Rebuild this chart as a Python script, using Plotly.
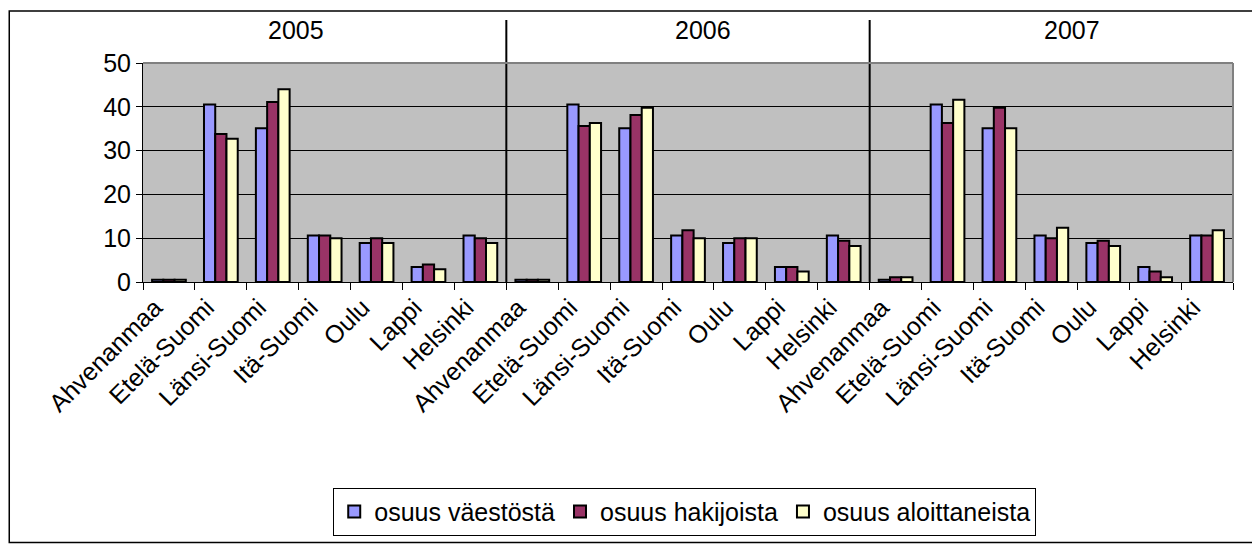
import plotly.graph_objects as go

years = ["2005", "2006", "2007"]
regions = ["Ahvenanmaa", "Etelä-Suomi", "Länsi-Suomi", "Itä-Suomi", "Oulu", "Lappi", "Helsinki"]
series_names = ["osuus väestöstä", "osuus hakijoista", "osuus aloittaneista"]

# values per year, in region order
vaestosta = [0.5, 40.5, 35.1, 10.6, 8.9, 3.4, 10.6,
             0.5, 40.5, 35.1, 10.6, 8.9, 3.4, 10.6,
             0.5, 40.5, 35.1, 10.6, 8.9, 3.4, 10.6]
hakijoista = [0.5, 33.8, 41.1, 10.6, 10.0, 4.0, 10.0,
              0.5, 35.6, 38.1, 11.8, 10.0, 3.4, 9.4,
              1.1, 36.3, 39.8, 10.0, 9.4, 2.4, 10.6]
aloittaneista = [0.5, 32.7, 44.0, 10.0, 8.9, 2.9, 8.9,
                 0.5, 36.3, 39.8, 10.0, 10.0, 2.4, 8.2,
                 1.1, 41.6, 35.1, 12.4, 8.2, 1.1, 11.8]

colors = ["#9999FF", "#993366", "#FFFFCC"]

n = len(years) * len(regions)
xpos = list(range(n))
ticktext = regions * len(years)

FONT = "Liberation Sans, Arial, sans-serif"

fig = go.Figure()
for name, vals, col in zip(series_names, [vaestosta, hakijoista, aloittaneista], colors):
    fig.add_trace(go.Bar(
        x=xpos, y=vals, name=name,
        marker=dict(color=col, line=dict(color="black", width=2)),
    ))

shapes = []
# year dividers
for k in range(1, len(years)):
    xb = k * len(regions) - 0.5
    shapes.append(dict(type="line", xref="x", yref="paper", x0=xb, x1=xb,
                       y0=0, y1=1.196, line=dict(color="black", width=2)))
# plot area gray border top/right
shapes.append(dict(type="line", xref="paper", yref="paper", x0=0, x1=1, y0=1, y1=1,
                   line=dict(color="#808080", width=2)))
shapes.append(dict(type="line", xref="paper", yref="paper", x0=1, x1=1, y0=0, y1=1,
                   line=dict(color="#808080", width=2)))
# outer chart border
shapes.append(dict(type="rect", xref="paper", yref="paper",
                   x0=-0.1227, x1=1.0193, y0=-1.19, y1=1.2374,
                   line=dict(color="black", width=1.5), fillcolor="rgba(0,0,0,0)"))

year_x = [(296 - 143) / 1090, (703 - 143) / 1090, (1072 - 143) / 1090]
annotations = []
for yr, xp in zip(years, year_x):
    annotations.append(dict(text=yr, xref="paper", yref="paper", x=xp, y=(282 - 30) / 219,
                            showarrow=False, xanchor="center", yanchor="middle",
                            font=dict(family=FONT, size=25, color="black")))

fig.update_layout(
    width=1252, height=536,
    margin=dict(l=135, r=27, t=55, b=262, autoexpand=False),
    paper_bgcolor="white", plot_bgcolor="#C0C0C0",
    barmode="group", bargap=0.35, bargroupgap=0,
    font=dict(family=FONT, size=25, color="black"),
    shapes=shapes, annotations=annotations,
    showlegend=True,
    legend=dict(orientation="h", x=0.497, xanchor="center", y=-0.94, yanchor="top",
                bordercolor="black", borderwidth=1, bgcolor="white",
                font=dict(family=FONT, size=25, color="black"),
                itemwidth=30, traceorder="normal"),
)
fig.update_xaxes(
    range=[-0.5, n - 0.5], tickmode="array", tickvals=xpos, ticktext=ticktext,
    tickangle=-45, ticks="", showgrid=False, zeroline=False,
    showline=True, linecolor="black", linewidth=1,
    tickfont=dict(family=FONT, size=25), automargin=False,
    ticklabelshift=-14,
    minor=dict(tickmode="linear", tick0=0.5, dtick=1, ticks="outside", ticklen=7,
               tickcolor="black", tickwidth=1, showgrid=False),
)
fig.update_yaxes(
    range=[0, 50], dtick=10, ticks="outside", ticklen=6, tickcolor="black",
    showgrid=True, gridcolor="black", gridwidth=1, zeroline=False,
    showline=True, linecolor="black", linewidth=1,
    tickfont=dict(family=FONT, size=25), automargin=False,
)

fig.write_html("out.html")
